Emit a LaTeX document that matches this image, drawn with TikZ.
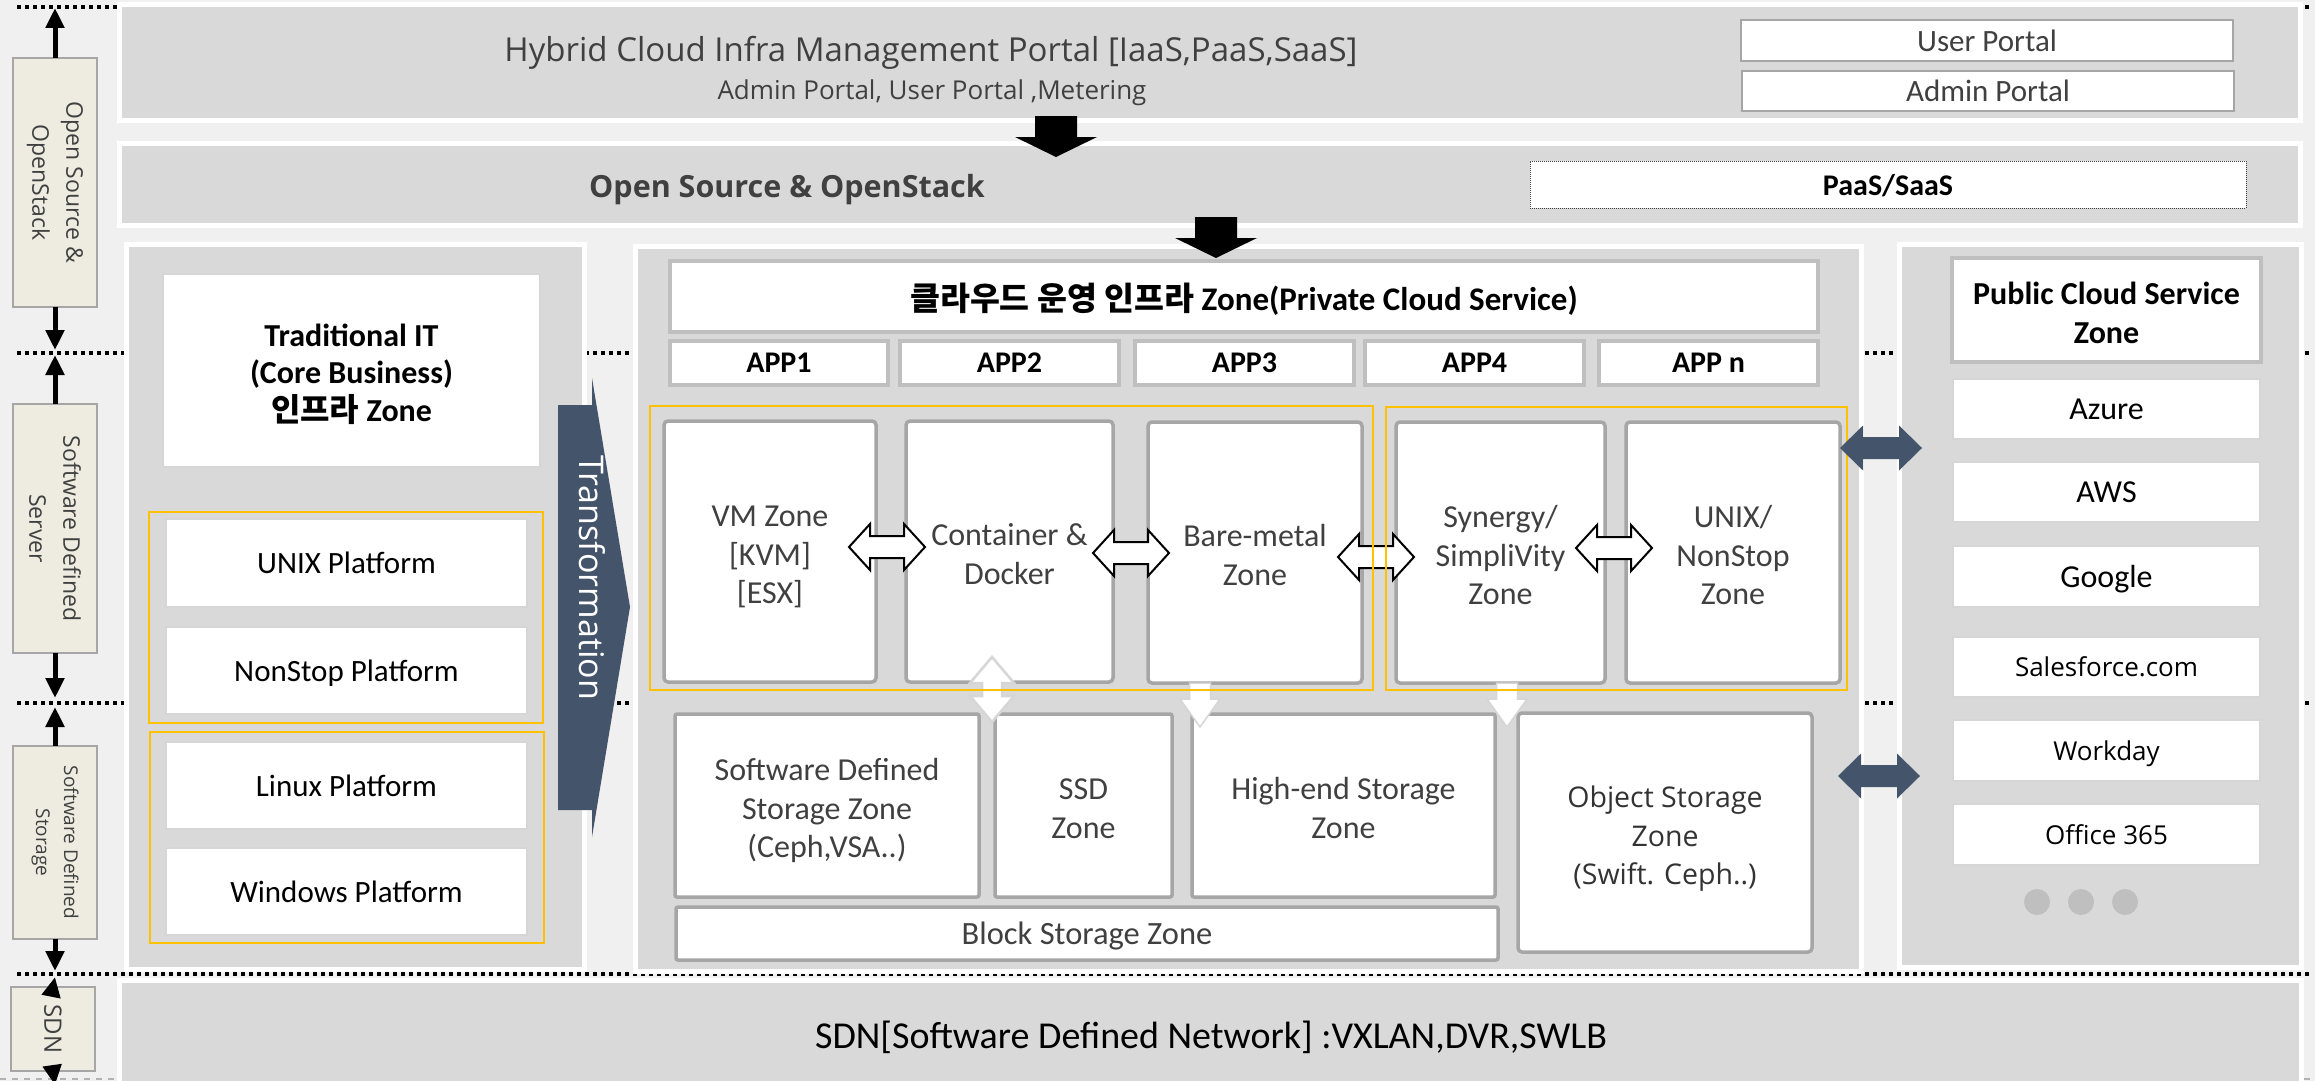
\documentclass[tikz,border=0pt]{standalone}
\usepackage{fontspec}
\setmainfont{Carlito}
\newfontfamily\osf{Open Sans}
\newfontfamily\krf{Noto Sans CJK KR}
\usetikzlibrary{arrows.meta,calc}
\newcommand\mlines[1]{\raisebox{-6pt}[\height][\depth]{\begin{tabular}{@{}c@{}}#1\end{tabular}}}
\definecolor{bgc}{HTML}{F0F0F0}
\definecolor{pan}{HTML}{D9D9D9}
\definecolor{zb}{HTML}{A6A6A6}
\definecolor{ab}{HTML}{BFBFBF}
\definecolor{yelc}{HTML}{FFC000}
\definecolor{slate}{HTML}{44546A}
\definecolor{beige}{HTML}{EEECE1}
\definecolor{txt}{HTML}{404040}
\definecolor{lbc}{HTML}{D6D6D6}
\definecolor{dotc}{HTML}{BFBFBF}
\tikzset{
  rct/.style n args={4}{at={({(#1+#3)/2},{(#2+#4)/2})}, minimum width={(#3-#1)*1pt}, minimum height={(#4-#2)*1pt}},
  bx/.style={inner sep=0pt, outer sep=0pt, rectangle},
  oneline/.style={text depth=0pt},
  pnl/.style={bx, fill=pan, draw=white, line width=5pt},
  lblbox/.style={bx, fill=beige, draw=zb, line width=1.5pt},
  lbltext/.style={rotate=-90, align=center, text=txt, font=\osf\fontsize{23}{34}\selectfont},
  zonebox/.style={bx, fill=white, draw=zb, line width=3.5pt, rounded corners=4pt, text=txt, font=\fontsize{32}{38.5}\selectfont},
  appbox/.style={bx, oneline, fill=white, draw=ab, line width=3.5pt, font=\bfseries\fontsize{30}{36}\selectfont},
  platbox/.style={bx, oneline, fill=white, draw=lbc, line width=1.5pt, font=\fontsize{31}{36}\selectfont},
  portbox/.style={bx, oneline, fill=white, draw=zb, line width=1.5pt, text=txt, font=\fontsize{31}{36}\selectfont},
  pubbox/.style={bx, oneline, fill=white, draw=lbc, line width=1.5pt, font=\fontsize{32}{36}\selectfont},
  yelbox/.style={bx, draw=yelc, line width=2.5pt},
  sepline/.style={line width=3.5pt, dash pattern=on 3.5pt off 4.5pt, black},
  vline/.style={line width=5pt, -{Triangle[length=20pt,width=18pt]}},
  pics/zarrow/.style={code={\draw[line width=2pt, fill=white, line join=miter]
    (-38,0) -- (-17,-23) -- (-17,-11) -- (17,-11) -- (17,-23) -- (38,0) -- (17,23) -- (17,11) -- (-17,11) -- (-17,23) -- cycle;}},
  pics/darrow/.style={code={\fill[slate]
    (-41,0) -- (-18,-22.5) -- (-18,-11) -- (18,-11) -- (18,-22.5) -- (41,0) -- (18,22.5) -- (18,11) -- (-18,11) -- (-18,22.5) -- cycle;}},
  pics/barrow/.style={code={\fill[black]
    (-21,0) -- (21,0) -- (21,21) -- (41,21) -- (0,41) -- (-41,21) -- (-21,21) -- cycle;}},
  pics/wdown/.style={code={\draw[line width=1.5pt, draw=lbc, fill=white]
    (-10.5,0) -- (10.5,0) -- (10.5,16) -- (20,16) -- (0,44) -- (-20,16) -- (-10.5,16) -- cycle;}},
  pics/wdbl/.style={code={\draw[line width=2.5pt, draw=lbc, fill=white]
    (0,-32) -- (22,-6) -- (10,-6) -- (10,7) -- (22,7) -- (0,33) -- (-22,7) -- (-10,7) -- (-10,-6) -- (-22,-6) -- cycle;}},
}
\begin{document}
\begin{tikzpicture}[x=1pt,y=-1pt]
\clip (0,0) rectangle (2315,1081);
\fill[bgc] (0,0) rectangle (2315,1081);

% separator dotted lines
\draw[sepline] (17,7) -- (2312,7);
\draw[sepline] (17,353) -- (2312,353);
\draw[sepline] (17,703) -- (2312,703);
\draw[sepline] (17,974) -- (2312,974);
\draw[line width=2pt, dash pattern=on 6pt off 6pt, black!30] (0,1079) -- (2315,1079);

% ===== top portal panel =====
\node[pnl, rct={119.5}{4.5}{2300.5}{120.5}] (portal) {};
\node[oneline, font=\osf\fontsize{33}{38}\selectfont, text=txt] (portalT) at (931,49) {Hybrid Cloud Infra Management Portal [IaaS,PaaS,SaaS]};
\node[oneline, font=\osf\fontsize{26}{30}\selectfont, text=txt] (portalS) at (932,90) {Admin Portal, User Portal ,Metering};
\node[portbox, rct={1741}{20}{2233}{61}] (userp) {User Portal};
\node[portbox, rct={1742}{71}{2234}{111}] (adminp) {Admin Portal};

% ===== open source panel =====
\node[pnl, rct={119.5}{143.5}{2300.5}{225.5}] (os) {};
\node[oneline, font=\osf\bfseries\fontsize{30.5}{36}\selectfont, text=txt] (osT) at (787,186) {Open Source \& OpenStack};
\node[bx, oneline, fill=white, draw=black!75, line width=1pt, dash pattern=on 1pt off 1pt, rct={1530}{161}{2246}{208}, font=\bfseries\fontsize{30}{36}\selectfont] (paas) {PaaS/SaaS};

% ===== traditional IT panel =====
\node[pnl, rct={126.5}{244.5}{584.5}{969.5}] (trad) {};
\node[bx, fill=white, draw=lbc, line width=1.5pt, rct={163}{274}{540}{467}, font=\bfseries\fontsize{32}{37.5}\selectfont] (tradT) {\mlines{Traditional IT\\(Core Business)\\{\krf 인프라} Zone}};
\node[platbox, rct={166}{519}{527}{607}] (unixp) {UNIX Platform};
\node[platbox, rct={166}{627}{527}{714}] (nsp) {NonStop Platform};
\node[platbox, rct={166}{742}{527}{829}] (linp) {Linux Platform};
\node[platbox, rct={166}{848}{527}{935}] (winp) {Windows Platform};
\node[yelbox, rct={149}{512}{543}{723}] (y1) {};
\node[yelbox, rct={150}{732}{544}{943}] (y2) {};

% transformation arrow
\fill[slate] (558,405) -- (592,405) -- (592,378) -- (630,607) -- (592,837) -- (592,810) -- (558,810) -- cycle;
\node[rotate=-90, text=white, font=\osf\fontsize{34}{40}\selectfont] (trans) at (592,578) {Transformation};

% ===== private cloud panel =====
\node[pnl, rct={635.5}{246.5}{1861.5}{971.5}] (priv) {};
\node[appbox, rct={670}{261}{1818}{332}, font=\bfseries\fontsize{33}{38}\selectfont] (privT) {{\krf\fontsize{32.5}{38}\selectfont 클라우드 운영 인프라} Zone(Private Cloud Service)};
\node[appbox, rct={670}{341}{888}{385}] (app1) {APP1};
\node[appbox, rct={900}{341}{1119}{385}] (app2) {APP2};
\node[appbox, rct={1135}{341}{1354}{385}] (app3) {APP3};
\node[appbox, rct={1365}{341}{1584}{385}] (app4) {APP4};
\node[appbox, rct={1599}{341}{1818}{385}] (appn) {APP n};

\node[zonebox, rct={664}{421}{876}{682}] (vm) {\mlines{VM Zone\\{}[KVM]\\{}[ESX]}};
\node[zonebox, rct={906}{421}{1113}{682}] (cont) {\mlines{Container \&\\Docker}};
\node[zonebox, rct={1148}{422}{1362}{683}] (bare) {\mlines{Bare-metal\\Zone}};
\node[zonebox, rct={1396}{422}{1605}{683}] (syn) {\mlines{Synergy/\\SimpliVity\\Zone}};
\node[zonebox, rct={1626}{422}{1840}{683}] (unixz) {\mlines{UNIX/\\NonStop\\Zone}};

\node[zonebox, rounded corners=2pt, rct={675}{714}{979}{897}] (sds) {\mlines{Software Defined\\Storage Zone\\(Ceph,VSA..)}};
\node[zonebox, rounded corners=2pt, rct={995}{714}{1172}{897}] (ssd) {\mlines{SSD\\Zone}};
\node[zonebox, rounded corners=2pt, rct={1192}{714}{1495}{897}] (hend) {\mlines{High-end Storage\\Zone}};
\node[zonebox, rct={1518}{713}{1812}{952}, text=black!80, font=\osf\fontsize{28.5}{38.5}\selectfont] (obj) {\mlines{Object Storage\\Zone\\(Swift. Ceph..)}};
\node[zonebox, oneline, rounded corners=2pt, rct={676}{907}{1498}{960}, font=\fontsize{32.5}{38}\selectfont] (block) {Block Storage Zone};

\pic at (887,547) {zarrow};
\pic at (1131,553) {zarrow};
\pic at (1376,557) {zarrow};
\pic at (1614,548) {zarrow};

\pic at (992,689) {wdbl};
\pic at (1200,683) {wdown};
\pic at (1507,683) {wdown};

\node[yelbox, rct={650}{406}{1373}{690}] (ya) {};
\node[yelbox, rct={1386}{407}{1847}{690}] (yb) {};

% ===== public cloud panel =====
\node[pnl, rct={1899.5}{244.5}{2301.5}{967.5}] (pub) {};
\node[bx, fill=white, draw=ab, line width=3.5pt, rct={1952}{258}{2261}{362}, font=\bfseries\fontsize{32}{39}\selectfont] (pubT) {\mlines{Public Cloud Service\\Zone}};
\node[pubbox, rct={1953}{379}{2260}{439}] (azure) {Azure};
\node[pubbox, rct={1953}{462}{2260}{522}] (aws) {AWS};
\node[pubbox, rct={1953}{546}{2260}{607}] (google) {Google};
\node[pubbox, rct={1953}{637}{2260}{697}, font=\osf\fontsize{26}{32}\selectfont] (sf) {Salesforce.com};
\node[pubbox, rct={1953}{720}{2260}{781}, font=\osf\fontsize{26}{32}\selectfont] (wd) {Workday};
\node[pubbox, rct={1953}{804}{2260}{865}, font=\osf\fontsize{26}{32}\selectfont] (o365) {Office 365};
\node[circle, fill=dotc, minimum size=26pt, inner sep=0pt] (d1) at (2037,902) {};
\node[circle, fill=dotc, minimum size=26pt, inner sep=0pt] (d2) at (2081,902) {};
\node[circle, fill=dotc, minimum size=26pt, inner sep=0pt] (d3) at (2125,902) {};

\pic at (1881,448) {darrow};
\pic at (1879,776) {darrow};

% black down arrows
\pic at (1056,116) {barrow};
\pic at (1216,217) {barrow};

% ===== SDN panel =====
\node[pnl, rct={119.5}{980.5}{2301.5}{1090}] (sdn) {};
\node[oneline, font=\fontsize{38}{44}\selectfont] (sdnT) at (1211,1035) {SDN[Software Defined Network] :VXLAN,DVR,SWLB};

% ===== left strip =====
\node[lblbox, rct={13}{58}{97}{307}] (lb1) {};
\node[lblbox, rct={13}{404}{97}{653}] (lb2) {};
\node[lblbox, rct={13}{746}{97}{939}] (lb3) {};
\node[lblbox, rct={11}{987}{95}{1071}] (lb4) {};
\node[lbltext] (lt1) at (lb1.center) {Open Source \&\\OpenStack};
\node[lbltext] (lt2) at (lb2.center) {Software Defined\\Server};
\node[lbltext, font=\osf\fontsize{19}{28}\selectfont] (lt3) at (lb3.center) {Software Defined\\Storage};
\node[lbltext, font=\osf\fontsize{24}{30}\selectfont] (lt4) at (lb4.center) {SDN};

\coordinate (t1) at (55,8);
\coordinate (t2) at (55,350);
\coordinate (t3) at (55,355);
\coordinate (t4) at (55,698);
\coordinate (t5) at (55,707);
\coordinate (t6) at (55,971);
\coordinate (t7) at (55,977);
\coordinate (t8) at (55,1085);
\draw[vline] (lb1.north) -- (t1);
\draw[vline] (lb1.south) -- (t2);
\draw[vline] (lb2.north) -- (t3);
\draw[vline] (lb2.south) -- (t4);
\draw[vline] (lb3.north) -- (t5);
\draw[vline] (lb3.south) -- (t6);
\draw[vline] (lb4.north) -- (t7);
\draw[vline] (lb4.south) -- (t8);
\end{tikzpicture}
\end{document}
